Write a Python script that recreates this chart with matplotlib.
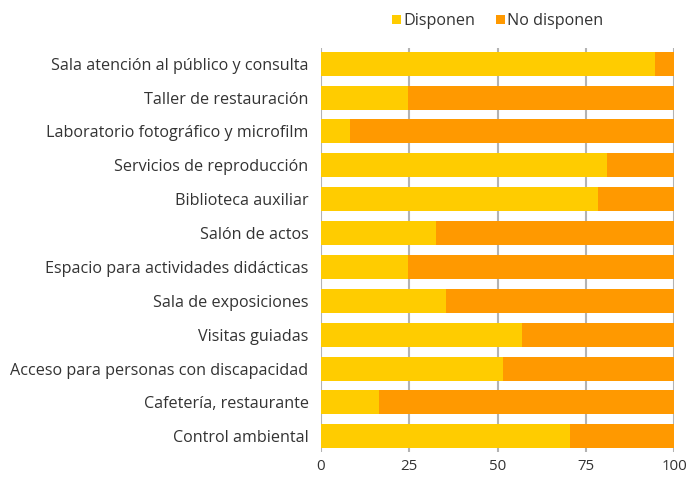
import numpy as np
import matplotlib.pyplot as plt

categorias = [
    "Sala atención al público y consulta",
    "Taller de restauración",
    "Laboratorio fotográfico y microfilm",
    "Servicios de reproducción",
    "Biblioteca auxiliar",
    "Salón de actos",
    "Espacio para actividades didácticas",
    "Sala de exposiciones",
    "Visitas guiadas",
    "Acceso para personas con discapacidad",
    "Cafetería, restaurante",
    "Control ambiental",
]
disponen = [94.6, 24.5, 8.2, 81.1, 78.5, 32.5, 24.5, 35.3, 56.9, 51.5, 16.3, 70.4]
no_disponen = [100 - v for v in disponen]
ticks = [0, 25, 50, 75, 100]

plt.rcParams['font.family'] = ['Open Sans', 'DejaVu Sans']
txt = "#333333"
fs = 11.6

fig = plt.figure(figsize=(6.86, 4.78), dpi=100)
ax = fig.add_axes([0.468, 0.054, 0.5145, 0.846])

y = np.arange(len(categorias))
ax.barh(y, disponen, height=0.71, color="#FFCC00", label="Disponen", zorder=2)
ax.barh(y, no_disponen, left=disponen, height=0.71, color="#FF9900",
        label="No disponen", zorder=2)

ax.set_xlim(0, 100)
ax.set_ylim(len(categorias) - 0.53, -0.47)
ax.set_yticks(y)
ax.set_yticklabels(categorias, fontsize=fs, color=txt)
ax.set_xticks(ticks)
ax.set_xticklabels([str(t) for t in ticks], fontsize=10.8, color=txt)
ax.tick_params(axis="y", length=0, pad=9)
ax.tick_params(axis="x", length=0, pad=5)
ax.grid(axis="x", color="#b3b3b3", linewidth=1.5, zorder=1)
ax.set_axisbelow(True)
for s in ax.spines.values():
    s.set_visible(False)

ax.legend(loc="lower center", bbox_to_anchor=(0.5, 1.03), ncol=2, frameon=False,
          fontsize=fs, handlelength=0.55, handleheight=0.55, handletextpad=0.15,
          columnspacing=1.3, labelcolor=txt, borderaxespad=0)

fig.savefig("out.png", dpi=100)
